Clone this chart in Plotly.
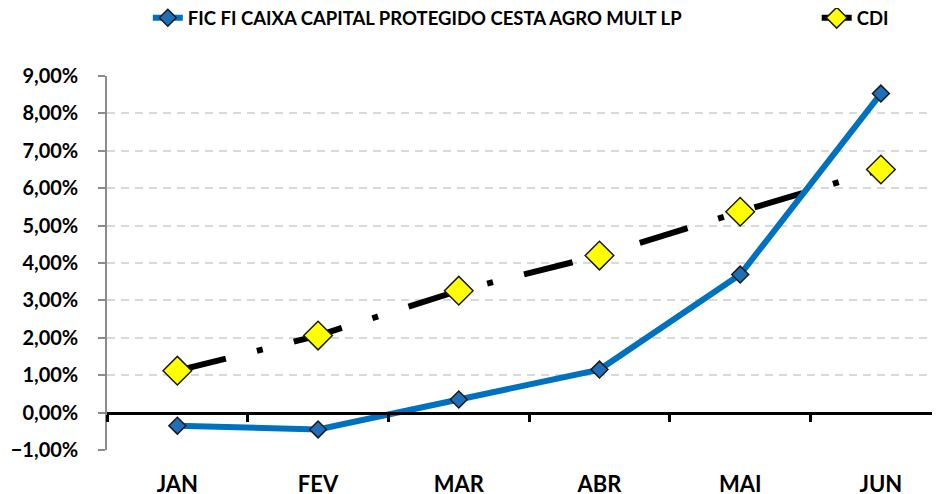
import plotly.graph_objects as go

months = ["JAN", "FEV", "MAR", "ABR", "MAI", "JUN"]
fundo = [-0.0035, -0.0045, 0.0035, 0.0115, 0.0369, 0.0853]
cdi = [0.0112, 0.0206, 0.0326, 0.0420, 0.0537, 0.0650]
fundo_nome = "FIC FI CAIXA CAPITAL PROTEGIDO CESTA AGRO MULT LP"

FONT = "Lato"
n = len(months)
x_right = 5.42  # the chart is cut off on the right side

fig = go.Figure()

# CDI drawn first so the fund line sits on top of it
fig.add_trace(go.Scatter(
    x=months, y=cdi, name="CDI", mode="lines+markers", legend="legend2",
    line=dict(color="black", width=6, dash="50px,32px,6px,32px"),
    marker=dict(symbol="diamond", size=22, color="#FFFF00",
                line=dict(color="#1a1a1a", width=1.5)),
))
fig.add_trace(go.Scatter(
    x=months, y=fundo, name=fundo_nome, mode="lines+markers",
    line=dict(color="#0070C0", width=6),
    marker=dict(symbol="diamond", size=13, color="#1F6FB8",
                line=dict(color="#1a1a1a", width=1.5)),
))

# invisible trace so the zero-line axis (x2) gets drawn
fig.add_trace(go.Scatter(x=[0], y=[0], xaxis="x2", mode="markers",
                         marker=dict(opacity=0), showlegend=False,
                         hoverinfo="skip"))

legend_font = dict(family=FONT, size=18.5, weight="bold")

# the page body adds an 8px offset, so the figure is 8px smaller
fig.update_layout(
    width=932, height=486,
    margin=dict(l=99, r=0, t=68, b=44, autoexpand=False),
    plot_bgcolor="white", paper_bgcolor="white",
    separators=",.",
    font=dict(family=FONT, size=16, color="black", weight="bold"),
    showlegend=True,
    legend=dict(orientation="h", x=0.049, xanchor="left",
                yref="container", y=0.979, yanchor="middle",
                font=legend_font),
    legend2=dict(orientation="h", x=0.852, xanchor="left",
                 yref="container", y=0.979, yanchor="middle",
                 font=legend_font),
    xaxis=dict(type="category", range=[-0.5, x_right], showline=False,
               showgrid=False, zeroline=False, ticks="",
               automargin=False,
               tickfont=dict(family=FONT, size=22, weight="bold"),
               ticklabelstandoff=19),
    xaxis2=dict(overlaying="x", anchor="free", position=0.1,
                range=[-0.5, x_right], showline=True, linecolor="black",
                linewidth=3, ticks="outside", ticklen=7, tickwidth=3,
                tickcolor="black", showticklabels=False, showgrid=False,
                zeroline=False, automargin=False,
                tickvals=[i - 0.5 for i in range(n + 1)]),
    yaxis=dict(range=[-0.01, 0.09], dtick=0.01, tickformat=".2%",
               showgrid=True, gridcolor="#D9D9D9", gridwidth=1.5,
               griddash="8px,6px", zeroline=False, automargin=False,
               showline=True, linecolor="#8c8c8c", linewidth=1.5,
               ticks="outside", ticklen=7, tickcolor="#8c8c8c",
               tickwidth=1.5, ticklabelstandoff=16,
               tickfont=dict(family=FONT, size=20, weight="bold")),
)

fig.write_html("out.html")
